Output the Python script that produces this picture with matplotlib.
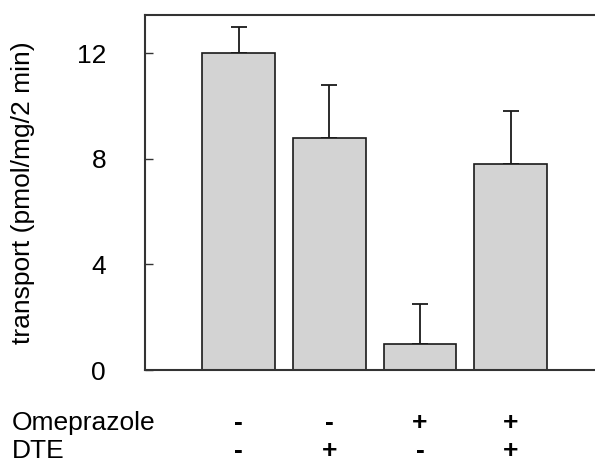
import matplotlib
matplotlib.use("Agg")
import matplotlib.pyplot as plt
import matplotlib.transforms as mtransforms

plt.rcParams['font.family'] = ['Liberation Sans', 'DejaVu Sans']

values = [12.0, 8.8, 1.0, 7.8]
errors = [1.0, 2.0, 1.5, 2.0]
omeprazole = ['-', '-', '+', '+']
dte = ['-', '+', '-', '+']
yticks = [0, 4, 8, 12]

FS = 19

fig = plt.figure(figsize=(5.95, 4.62), dpi=100)
ax = fig.add_axes([145/595, 1-370/462, 1-145/595, (370-15)/462])

x = list(range(len(values)))
ax.bar(x, values, width=0.80, color='#d3d3d3', edgecolor='#1a1a1a', linewidth=1.2, zorder=2)
ax.errorbar(x, values, yerr=[[0]*len(errors), errors], fmt='none', ecolor='#1a1a1a',
            elinewidth=1.3, capsize=5.8, capthick=1.3, zorder=1)

ax.set_xlim(-1.033, 3.93)
ax.set_ylim(0, 13.45)
ax.set_yticks(yticks)
ax.set_xticks([])
ax.tick_params(axis='y', direction='in', length=5.8, width=1.0, pad=28, labelsize=FS, color='#333333')
for s in ['left', 'top', 'bottom']:
    ax.spines[s].set_color('#333333')
    ax.spines[s].set_linewidth(1.5)
ax.spines['right'].set_visible(False)
ax.set_ylabel('transport (pmol/mg/2 min)', fontsize=FS, labelpad=30)

trans = mtransforms.blended_transform_factory(ax.transData, fig.transFigure)
y1 = 1 - 423/462
y2 = 1 - 451/462
fig.text(12/595, y1, 'Omeprazole', fontsize=FS, va='center', ha='left')
fig.text(12/595, y2, 'DTE', fontsize=FS, va='center', ha='left')
for xi, o, d in zip(x, omeprazole, dte):
    ax.text(xi, y1, o, transform=trans, fontsize=FS, fontweight='bold', ha='center', va='center')
    ax.text(xi, y2, d, transform=trans, fontsize=FS, fontweight='bold', ha='center', va='center')

fig.savefig('out.png', dpi=100)
